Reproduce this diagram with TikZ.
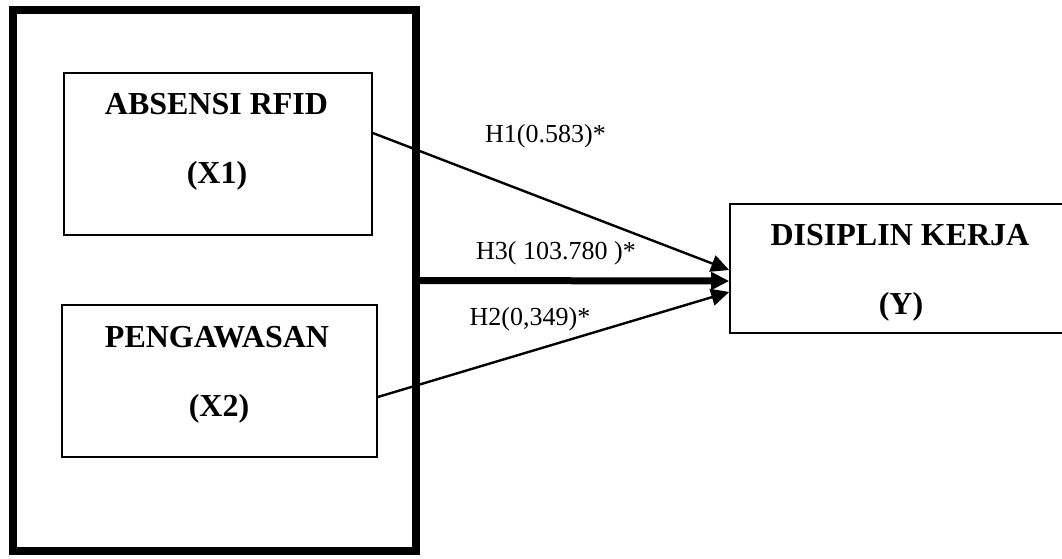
\documentclass[tikz,border=0pt]{standalone}
\usepackage{fontspec}
\setmainfont{Liberation Serif}
\usetikzlibrary{arrows.meta}
\tikzset{
  varbox/.style={draw, line width=0.8pt, rectangle, inner sep=0pt},
  judul/.style={font=\fontsize{16}{19}\selectfont\bfseries, anchor=base, inner sep=0pt},
  ket/.style={font=\fontsize{13}{15}\selectfont, anchor=base, inner sep=0pt},
  panah/.style={line width=1.2pt, -{Triangle[length=9pt,width=8.5pt]}}
}
\begin{document}
\begin{tikzpicture}[x=0.5pt,y=-0.5pt]
\useasboundingbox (0,0) rectangle (1062,558);
\clip (0,0) rectangle (1062,558);
% kotak variabel bebas
\node[draw, line width=4pt, minimum width=201.75pt, minimum height=270.5pt, inner sep=0pt] (frame) at (214.25,280.5) {};
\node[varbox, minimum width=154pt, minimum height=81pt] (x1) at (218,154) {};
\node[varbox, minimum width=157.5pt, minimum height=76pt] (x2) at (219.5,381) {};
\node[varbox, minimum width=170pt, minimum height=64.5pt] (y) at (900,268.5) {};
\node[judul] (x1nama) at (216.5,114) {ABSENSI RFID};
\node[judul] (x1kode) at (217,183) {(X1)};
\node[judul] (x2nama) at (217,347) {PENGAWASAN};
\node[judul] (x2kode) at (219,416) {(X2)};
\node[judul] (ynama) at (900,245) {DISIPLIN KERJA};
\node[judul] (ykode) at (901,314) {(Y)};
% hipotesis
\draw[panah] ([yshift=10.5pt]x1.east) -- ([yshift=-0.75pt]y.west);
\draw[panah, line width=3.5pt] (frame.east) -- ([yshift=-6.25pt]y.west);
\draw[panah] ([yshift=-8pt]x2.east) -- ([yshift=-11.75pt]y.west);
\node[ket] (h1) at (545.5,142) {H1(0.583)*};
\node[ket] (h3) at (556,259) {H3( 103.780 )*};
\node[ket] (h2) at (530,325) {H2(0,349)*};
\end{tikzpicture}
\end{document}
